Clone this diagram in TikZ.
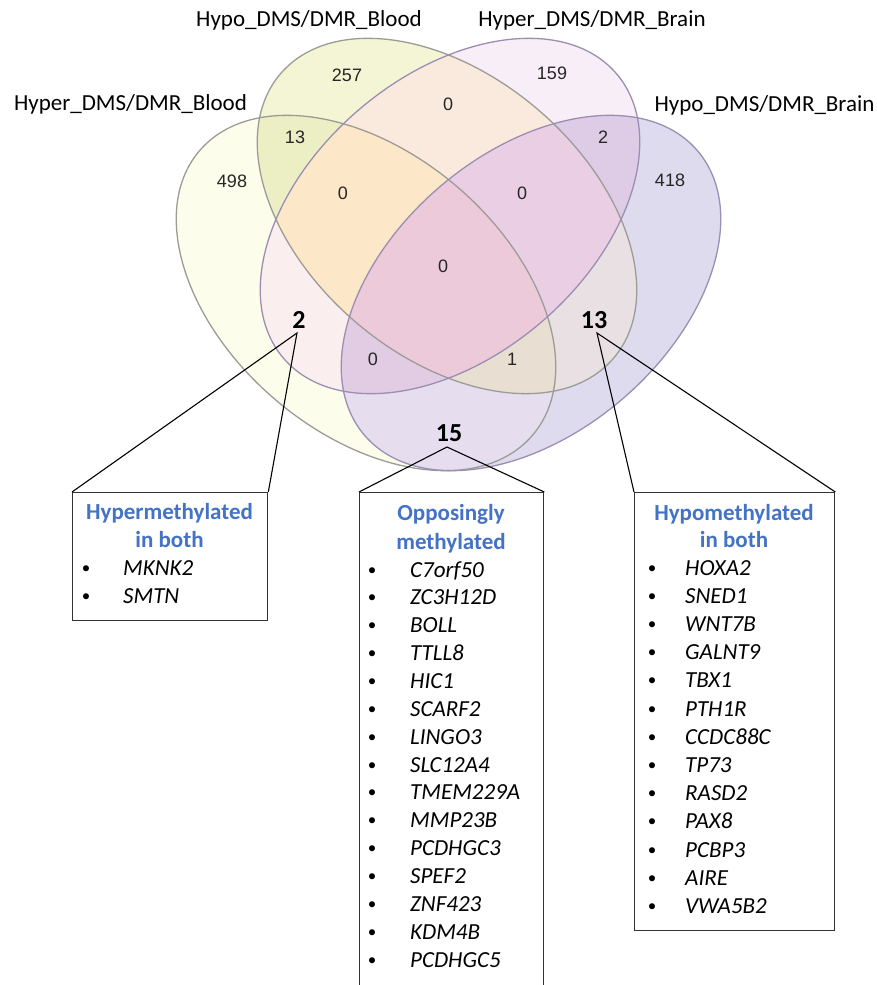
\documentclass[tikz,border=0pt]{standalone}
\usepackage{fontspec}
\setmainfont{Carlito}
\newfontfamily\arialf{Liberation Sans}
\definecolor{cA}{HTML}{FDFDEC}
\definecolor{cB}{HTML}{F3F5D5}
\definecolor{cC}{HTML}{F8EEF7}
\definecolor{cD}{HTML}{DEDBEE}
\definecolor{cAB}{HTML}{ECEEC4}
\definecolor{cAC}{HTML}{FBEEEE}
\definecolor{cAD}{HTML}{E6DEEE}
\definecolor{cBC}{HTML}{FAEADE}
\definecolor{cBD}{HTML}{E8E0E2}
\definecolor{cCD}{HTML}{DECCE6}
\definecolor{cABC}{HTML}{FCE8C8}
\definecolor{cABD}{HTML}{E8DED2}
\definecolor{cACD}{HTML}{E2CCE4}
\definecolor{cBCD}{HTML}{EACEE4}
\definecolor{cABCD}{HTML}{ECCADA}
\definecolor{edgeY}{HTML}{9C9C96}
\definecolor{edgeP}{HTML}{9A8FB2}
\definecolor{ttlblue}{HTML}{4472C4}
\newcommand\pA{(366,293) ellipse [x radius=219pt, y radius=140pt]}
\newcommand\pB{(447,216) ellipse [x radius=219pt, y radius=140pt]}
\newcommand\pC{(450,216) ellipse [x radius=219pt, y radius=140pt]}
\newcommand\pD{(531,293) ellipse [x radius=219pt, y radius=140pt]}
\tikzset{
 rA/.style={rotate around={-40.5:(366,293)}},
 rB/.style={rotate around={-40.5:(447,216)}},
 rC/.style={rotate around={40.5:(450,216)}},
 rD/.style={rotate around={40.5:(531,293)}},
 cnt/.style={font=\arialf\fontsize{18}{20}\selectfont, text=black!85, inner sep=1pt},
 bnum/.style={font=\bfseries\fontsize{26}{28}\selectfont, inner sep=1pt},
 lab/.style={font=\fontsize{23}{26}\selectfont, inner sep=0pt, anchor=base},
 ttl/.style={font=\bfseries\fontsize{23}{26}\selectfont, text=ttlblue, inner sep=0pt, anchor=base},
 gene/.style={font=\itshape\fontsize{23}{26}\selectfont, inner sep=0pt, anchor=base west},
 bul/.style={font=\fontsize{17}{20}\selectfont, inner sep=0pt, anchor=base},
 listbox/.style={draw=black!80, line width=1.3pt, anchor=north west, inner sep=0pt},
 conn/.style={draw=black, line width=1.1pt},
}
\begin{document}
\begin{tikzpicture}[x=1pt,y=-1pt]
\useasboundingbox (0,0) rectangle (877,985);
\fill[white] (0,0) rectangle (877,985);
% single sets
\fill[cA,rA] \pA;
\fill[cB,rB] \pB;
\fill[cC,rC] \pC;
\fill[cD,rD] \pD;
% pairs
\begin{scope}\clip[rA] \pA; \fill[cAB,rB] \pB;\end{scope}
\begin{scope}\clip[rA] \pA; \fill[cAC,rC] \pC;\end{scope}
\begin{scope}\clip[rA] \pA; \fill[cAD,rD] \pD;\end{scope}
\begin{scope}\clip[rB] \pB; \fill[cBC,rC] \pC;\end{scope}
\begin{scope}\clip[rB] \pB; \fill[cBD,rD] \pD;\end{scope}
\begin{scope}\clip[rC] \pC; \fill[cCD,rD] \pD;\end{scope}
% triples
\begin{scope}\clip[rA] \pA; \clip[rB] \pB; \fill[cABC,rC] \pC;\end{scope}
\begin{scope}\clip[rA] \pA; \clip[rB] \pB; \fill[cABD,rD] \pD;\end{scope}
\begin{scope}\clip[rA] \pA; \clip[rC] \pC; \fill[cACD,rD] \pD;\end{scope}
\begin{scope}\clip[rB] \pB; \clip[rC] \pC; \fill[cBCD,rD] \pD;\end{scope}
% all four
\begin{scope}\clip[rA] \pA; \clip[rB] \pB; \clip[rC] \pC; \fill[cABCD,rD] \pD;\end{scope}
% outlines
\draw[edgeY, line width=1.3pt, rA] \pA;
\draw[edgeY, line width=1.3pt, rB] \pB;
\draw[edgeP, line width=1.3pt, rC] \pC;
\draw[edgeP, line width=1.3pt, rD] \pD;

% set labels
\node[lab] (lA) at (130.5,110) {Hyper\_DMS/DMR\_Blood};
\node[lab] (lB) at (309,27) {Hypo\_DMS/DMR\_Blood};
\node[lab] (lC) at (592,27) {Hyper\_DMS/DMR\_Brain};
\node[lab] (lD) at (764.5,111) {Hypo\_DMS/DMR\_Brain};

% counts
\node[cnt] (n498) at (232,181) {498};
\node[cnt] (n13a) at (295,137) {13};
\node[cnt] (n257) at (347,75) {257};
\node[cnt] (n0bc) at (448,104) {0};
\node[cnt] (n159) at (552,73) {159};
\node[cnt] (n0abc) at (343,193) {0};
\node[cnt] (n0bcd) at (522,193) {0};
\node[cnt] (n2cd) at (603,137) {2};
\node[cnt] (n418) at (670,180) {418};
\node[cnt] (n0all) at (443,266) {0};
\node[cnt] (n0acd) at (373,359) {0};
\node[cnt] (n1abd) at (512,359) {1};
\node[bnum] (b2) at (299,320) {2};
\node[bnum] (b13) at (594,320) {13};
\node[bnum] (b15) at (449,433) {15};
\coordinate (t2) at (297,333);
\coordinate (t13) at (597,333);
\coordinate (t15) at (447,447);

% boxes
\node[listbox, minimum width=195pt, minimum height=128pt] (box1) at (72,492) {};
\node[listbox, minimum width=184pt, minimum height=520pt] (box2) at (359,492) {};
\node[listbox, minimum width=200pt, minimum height=438pt] (box3) at (634,492) {};

% connectors
\draw[conn] (box1.north west) -- (t2) -- (box1.north east);
\draw[conn] (box2.north west) -- (t15) -- (box2.north east);
\draw[conn] (box3.north west) -- (t13) -- (box3.north east);

% box 1
\node[ttl] (h1a) at (169.5,519) {Hypermethylated};
\node[ttl] (h1b) at (169.5,547) {in both};
\foreach \g [count=\i] in {MKNK2,SMTN}{
  \node[bul] (u1\i) at ({86},{573+28*(\i-1)}) {•};
  \node[gene] (g1\i) at ({123},{575+28*(\i-1)}) {\g};
}
% box 2
\node[ttl] (h2a) at (451,520) {Opposingly};
\node[ttl] (h2b) at (451,549) {methylated};
\foreach \g [count=\i] in {C7orf50,ZC3H12D,BOLL,TTLL8,HIC1,SCARF2,LINGO3,SLC12A4,TMEM229A,MMP23B,PCDHGC3,SPEF2,ZNF423,KDM4B,PCDHGC5}{
  \node[bul] (u2\i) at ({372},{575+27.86*(\i-1)}) {•};
  \node[gene] (g2\i) at ({410},{577+27.86*(\i-1)}) {\g};
}
% box 3
\node[ttl] (h3a) at (734,520) {Hypomethylated};
\node[ttl] (h3b) at (734,547) {in both};
\foreach \g [count=\i] in {HOXA2,SNED1,WNT7B,GALNT9,TBX1,PTH1R,CCDC88C,TP73,RASD2,PAX8,PCBP3,AIRE,VWA5B2}{
  \node[bul] (u3\i) at ({652},{573+28.2*(\i-1)}) {•};
  \node[gene] (g3\i) at ({685},{575+28.2*(\i-1)}) {\g};
}
\end{tikzpicture}
\end{document}
